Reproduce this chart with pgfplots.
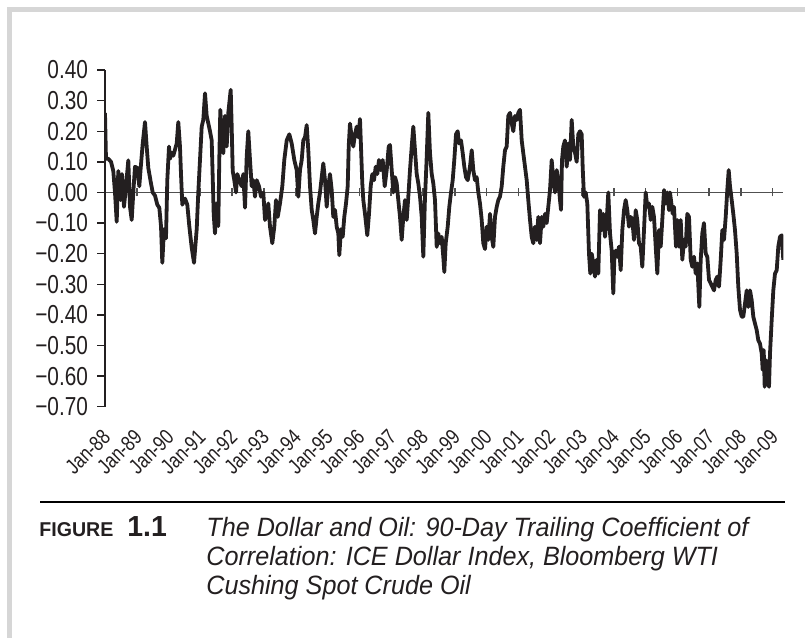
\documentclass[border=0pt]{standalone}
\usepackage{fontspec}
\setmainfont{Liberation Sans}[FakeStretch=0.87]
\newfontfamily\tickfont{Liberation Sans}[FakeStretch=0.8]
\newfontfamily\capfont{Liberation Sans}[FakeStretch=0.95]
\newfontfamily\figfont{Liberation Sans}[FakeStretch=0.98]
\usepackage{pgfplots}
\usepackage{pgfplotstable}
\pgfplotsset{compat=1.18}
\definecolor{frame}{RGB}{214,214,214}
\definecolor{ink}{RGB}{35,31,32}
\definecolor{zline}{RGB}{80,80,80}
\pgfplotstableread{
t v
1988.000 0.26
1988.031 0.11
1988.104 0.11
1988.189 0.10
1988.261 0.07
1988.314 0.00
1988.368 -0.096
1988.418 0.07
1988.494 -0.025
1988.535 0.06
1988.597 -0.047
1988.660 0.02
1988.733 0.105
1988.786 -0.047
1988.840 -0.09
1988.890 0.00
1988.943 0.084
1989.016 0.08
1989.079 0.02
1989.123 0.08
1989.186 0.16
1989.258 0.23
1989.311 0.15
1989.362 0.08
1989.437 0.035
1989.500 0.00
1989.572 -0.01
1989.645 -0.04
1989.708 -0.05
1989.761 -0.11
1989.802 -0.23
1989.855 -0.12
1989.918 -0.15
1989.959 0.04
1990.013 0.15
1990.044 0.11
1990.098 0.13
1990.148 0.12
1990.201 0.14
1990.255 0.16
1990.305 0.23
1990.358 0.15
1990.390 0.06
1990.431 -0.04
1990.516 -0.02
1990.588 -0.04
1990.651 -0.11
1990.726 -0.18
1990.799 -0.23
1990.884 -0.12
1990.934 0
1990.987 0.106
1991.041 0.215
1991.091 0.237
1991.145 0.324
1991.198 0.25
1991.248 0.226
1991.302 0.20
1991.355 0.17
1991.387 0.05
1991.418 -0.07
1991.459 -0.134
1991.513 -0.036
1991.563 -0.11
1991.594 0.106
1991.626 0.27
1991.670 0.19
1991.720 0.128
1991.774 0.25
1991.827 0.15
1991.877 0.26
1991.953 0.335
1991.984 0.215
1992.016 0.07
1992.066 0.04
1992.120 0
1992.160 0.06
1992.223 0.04
1992.299 0.02
1992.349 0.06
1992.403 -0.05
1992.456 0.117
1992.506 0.20
1992.560 0.106
1992.613 0.02
1992.664 0.04
1992.717 -0.014
1992.770 0.04
1992.843 0.02
1992.906 -0.014
1992.978 0
1993.032 -0.09
1993.085 -0.07
1993.135 -0.036
1993.189 -0.112
1993.261 -0.166
1993.324 -0.112
1993.377 -0.025
1993.431 -0.08
1993.503 -0.036
1993.576 0.02
1993.638 0.106
1993.714 0.17
1993.796 0.19
1993.871 0.16
1993.953 0.106
1994.028 0.073
1994.079 -0.014
1994.132 0.073
1994.186 0.106
1994.236 0.17
1994.289 0.18
1994.343 0.22
1994.393 0.138
1994.447 0.02
1994.500 -0.057
1994.550 -0.09
1994.604 -0.134
1994.657 -0.08
1994.708 -0.036
1994.761 0
1994.815 0.05
1994.865 0.095
1994.918 0.04
1994.972 -0.047
1995.022 0.02
1995.075 0.06
1995.129 0.008
1995.179 -0.08
1995.233 -0.057
1995.286 -0.112
1995.337 -0.134
1995.368 -0.205
1995.421 -0.12
1995.475 -0.145
1995.525 -0.08
1995.579 -0.036
1995.632 0.02
1995.664 0.15
1995.704 0.225
1995.758 0.18
1995.808 0.15
1995.862 0.19
1995.915 0.215
1995.966 0.18
1996.019 0.24
1996.050 0.15
1996.091 0.03
1996.123 -0.025
1996.176 -0.07
1996.248 -0.14
1996.302 -0.07
1996.355 0.02
1996.406 0.06
1996.459 0.04
1996.513 0.084
1996.563 0.06
1996.616 0.106
1996.670 0.073
1996.733 0.106
1996.796 0.02
1996.859 0.073
1996.922 0.15
1996.962 0.155
1997.016 0.073
1997.066 0
1997.120 0.05
1997.173 0.03
1997.223 -0.025
1997.277 -0.08
1997.330 -0.155
1997.381 -0.08
1997.434 -0.025
1997.488 -0.09
1997.538 -0.014
1997.591 0.073
1997.645 0.15
1997.695 0.215
1997.748 0.138
1997.802 0.06
1997.852 0.03
1997.906 -0.014
1997.959 -0.08
1998.010 -0.21
1998.060 -0.025
1998.113 0.106
1998.167 0.26
1998.220 0.128
1998.274 0.06
1998.324 0.03
1998.377 -0.025
1998.431 -0.178
1998.481 -0.134
1998.535 -0.166
1998.588 -0.145
1998.638 -0.21
1998.670 -0.26
1998.714 -0.166
1998.777 -0.112
1998.827 -0.047
1998.881 0
1998.934 0.04
1998.984 0.106
1999.038 0.19
1999.091 0.20
1999.132 0.16
1999.195 0.17
1999.249 0.128
1999.299 0.084
1999.352 0.05
1999.406 0.04
1999.478 0.084
1999.532 0.138
1999.582 0.073
1999.635 0.04
1999.689 0.05
1999.739 0
1999.792 -0.036
1999.846 -0.09
1999.896 -0.166
1999.950 -0.185
2000.003 -0.112
2000.054 -0.155
2000.107 -0.07
2000.160 -0.145
2000.211 -0.178
2000.264 -0.08
2000.318 -0.047
2000.368 -0.025
2000.421 -0.014
2000.475 0.02
2000.525 0.084
2000.579 0.138
2000.632 0.15
2000.682 0.25
2000.736 0.26
2000.789 0.226
2000.840 0.20
2000.893 0.25
2000.947 0.237
2000.997 0.26
2001.050 0.27
2001.104 0.17
2001.154 0.128
2001.208 0.084
2001.261 0.04
2001.311 -0.025
2001.365 -0.09
2001.418 -0.145
2001.469 -0.166
2001.522 -0.112
2001.575 -0.155
2001.626 -0.08
2001.679 -0.166
2001.733 -0.08
2001.783 -0.112
2001.837 -0.07
2001.890 -0.10
2001.940 -0.047
2001.994 0.008
2002.047 0.106
2002.098 0.04
2002.151 0
2002.204 0.073
2002.255 0.04
2002.308 -0.025
2002.340 -0.057
2002.371 0.106
2002.412 0.15
2002.465 0.17
2002.519 0.084
2002.569 0.16
2002.623 0.106
2002.676 0.237
2002.726 0.15
2002.780 0.13
2002.833 0.10
2002.884 0.19
2002.937 0.20
2002.990 0.19
2003.022 0.08
2003.063 -0.014
2003.116 0
2003.167 -0.036
2003.220 -0.2
2003.261 -0.265
2003.305 -0.2
2003.355 -0.232
2003.409 -0.275
2003.462 -0.22
2003.513 -0.265
2003.566 -0.058
2003.620 -0.123
2003.670 -0.07
2003.723 -0.145
2003.777 -0.09
2003.827 0
2003.881 -0.134
2003.934 -0.19
2003.984 -0.33
2004.016 -0.22
2004.060 -0.19
2004.110 -0.21
2004.164 -0.177
2004.217 -0.254
2004.268 -0.123
2004.321 -0.058
2004.374 -0.025
2004.425 -0.058
2004.478 -0.112
2004.532 -0.08
2004.582 -0.09
2004.635 -0.155
2004.689 -0.058
2004.739 -0.09
2004.793 -0.166
2004.846 -0.177
2004.896 -0.243
2004.950 -0.123
2005.003 0
2005.054 -0.047
2005.107 -0.036
2005.161 -0.09
2005.211 -0.047
2005.264 -0.08
2005.318 -0.177
2005.368 -0.265
2005.421 -0.123
2005.475 -0.177
2005.525 -0.09
2005.579 0.008
2005.632 -0.036
2005.683 0
2005.736 -0.058
2005.767 0
2005.852 -0.07
2005.893 -0.047
2005.956 -0.177
2005.997 -0.09
2006.050 -0.177
2006.104 -0.09
2006.154 -0.22
2006.208 -0.155
2006.261 -0.177
2006.311 -0.07
2006.365 -0.08
2006.418 -0.22
2006.469 -0.243
2006.522 -0.21
2006.575 -0.265
2006.626 -0.232
2006.689 -0.374
2006.733 -0.22
2006.783 -0.134
2006.836 -0.1
2006.890 -0.2
2006.940 -0.21
2006.994 -0.286
2007.047 -0.297
2007.097 -0.308
2007.151 -0.32
2007.204 -0.286
2007.255 -0.275
2007.308 -0.308
2007.362 -0.22
2007.412 -0.123
2007.465 -0.155
2007.519 -0.08
2007.569 0.008
2007.613 0.073
2007.654 0.02
2007.708 -0.025
2007.758 -0.07
2007.811 -0.123
2007.865 -0.2
2007.915 -0.308
2007.969 -0.384
2008.022 -0.406
2008.072 -0.406
2008.126 -0.363
2008.179 -0.32
2008.230 -0.374
2008.283 -0.32
2008.336 -0.352
2008.387 -0.406
2008.440 -0.428
2008.494 -0.45
2008.544 -0.483
2008.597 -0.494
2008.651 -0.526
2008.682 -0.58
2008.714 -0.515
2008.745 -0.635
2008.786 -0.548
2008.827 -0.59
2008.881 -0.635
2008.912 -0.526
2008.965 -0.417
2009.016 -0.32
2009.069 -0.265
2009.123 -0.254
2009.173 -0.177
2009.226 -0.145
2009.280 -0.14
2009.330 -0.22
}\corr

\begin{document}
\begin{tikzpicture}[x=0.5pt,y=0.5pt]
\path[use as bounding box] (0,0) rectangle (805,638);
\fill[frame] (7,0) rectangle (12,631);
\fill[frame] (7,626) rectangle (805,631);
% zero line with centred year ticks
\begin{axis}[
  at={(52.5pt,115.65pt)}, anchor=south west,
  scale only axis, width=339.15pt, height=168.35pt,
  xmin=1988, xmax=2009.33, ymin=-0.70, ymax=0.40,
  axis x line=middle, axis y line=none,
  axis line style={-, draw=zline, line width=0.75pt},
  xtick={1988,...,2009}, xticklabels={}, ytick=\empty,
  tick align=center, major tick length=4pt,
  every tick/.style={draw=zline, line width=0.75pt},
]
\end{axis}
% main axis
\begin{axis}[
  at={(52.5pt,115.65pt)}, anchor=south west,
  scale only axis, width=339.15pt, height=168.35pt,
  xmin=1988, xmax=2009.33, ymin=-0.70, ymax=0.40,
  axis x line=bottom, axis y line=left,
  axis line style={-, draw=ink, line width=0.7pt},
  x axis line style={draw=none},
  xtick={1988,...,2009},
  xticklabels={Jan-88,Jan-89,Jan-90,Jan-91,Jan-92,Jan-93,Jan-94,Jan-95,Jan-96,Jan-97,Jan-98,Jan-99,Jan-00,Jan-01,Jan-02,Jan-03,Jan-04,Jan-05,Jan-06,Jan-07,Jan-08,Jan-09},
  xtick style={draw=none},
  ytick={-0.7,-0.6,-0.5,-0.4,-0.3,-0.2,-0.1,0,0.1,0.2,0.3,0.4},
  yticklabels={−0.70,−0.60,−0.50,−0.40,−0.30,−0.20,−0.10,0.00,0.10,0.20,0.30,0.40},
  ytick style={draw=ink, line width=0.7pt},
  tick align=outside, major tick length=4pt,
  xticklabel style={xshift=1.5pt, yshift=-8.5pt, rotate=45, anchor=east, inner sep=1pt, font=\tickfont\fontsize{10.75}{11}\selectfont, text=ink},
  yticklabel style={xshift=-1pt, font=\tickfont\fontsize{13}{13}\selectfont, text=ink},
]
\addplot[ink, line width=1.9pt, line join=round, no marks] table[x=t, y=v] {\corr};
\end{axis}
% caption
\draw[black, line width=1pt] (40,136) -- (785,136);
\node[anchor=base west, inner sep=0, text=ink] at (39,101.3) {\figfont\bfseries\fontsize{10}{10}\selectfont FIGURE\hspace{7pt}\fontsize{14.5}{14}\selectfont 1.1};
\node[anchor=base west, inner sep=0, text=ink] at (206,101.3) {\capfont\itshape\fontsize{13.25}{14}\selectfont The Dollar and Oil: 90-Day Trailing Coefficient of};
\node[anchor=base west, inner sep=0, text=ink] at (206,72.3) {\capfont\itshape\fontsize{13.25}{14}\selectfont Correlation: ICE Dollar Index, Bloomberg WTI};
\node[anchor=base west, inner sep=0, text=ink] at (206,43.3) {\capfont\itshape\fontsize{13.25}{14}\selectfont Cushing Spot Crude Oil};
\end{tikzpicture}
\end{document}
